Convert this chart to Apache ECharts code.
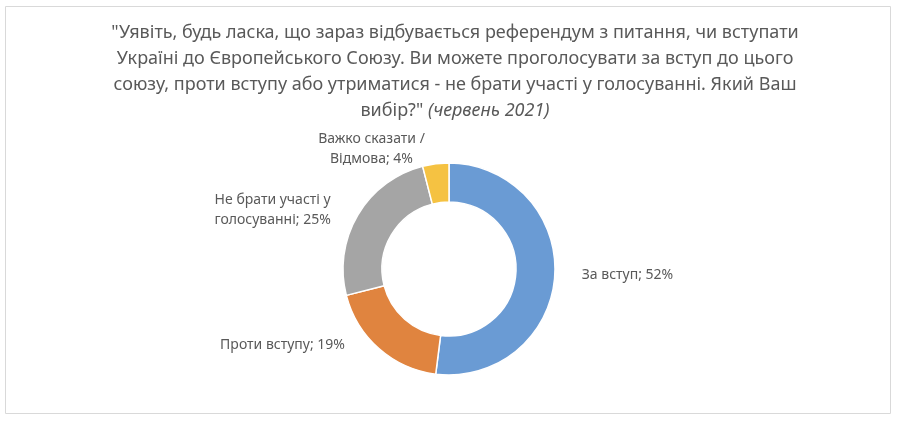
<!DOCTYPE html>
<html>
<head>
<meta charset="utf-8">
<script src="https://cdn.jsdelivr.net/npm/echarts@6/dist/echarts.min.js"></script>
<style>
    html, body { margin: 0; padding: 0; background: #fff; }
    #chart { width: 898px; height: 422px; }
</style>
</head>
<body>
<div id="chart"></div>
<script>
    // дані опитування (червень 2021)
    var categories = ['За вступ', 'Проти вступу', 'Не брати участі у\nголосуванні', 'Важко сказати /\nВідмова'];
    var values = [52, 19, 25, 4];
    var colors = ['#6A9BD4', '#E0843F', '#A5A5A5', '#F5C242'];
    // зсув підписів відносно стандартного місця
    var labelShift = [[-3, -2], [-9, -15], [1, 3], [6, 0]];

    var pieData = categories.map(function (name, i) {
        return { name: name, value: values[i], itemStyle: { color: colors[i] } };
    });

    var chart = echarts.init(document.getElementById('chart'));
    var option = {
        animation: false,
        title: {
            text: '"Уявіть, будь ласка, що зараз відбувається референдум з питання, чи вступати\n' +
                  'Україні до Європейського Союзу. Ви можете проголосувати за вступ до цього\n' +
                  'союзу, проти вступу або утриматися - не брати участі у голосуванні. Який Ваш\n' +
                  'вибір?" {i|(червень 2021)}',
            left: 450,
            top: 15,
            textAlign: 'center',
            textStyle: {
                fontFamily: 'Noto Sans',
                fontSize: 18,
                fontWeight: 'normal',
                color: '#595959',
                lineHeight: 26,
                rich: {
                    i: { fontFamily: 'Noto Sans', fontSize: 18, fontStyle: 'italic', color: '#595959', lineHeight: 26 }
                }
            }
        },
        graphic: [{
            type: 'rect',
            shape: { x: 5.5, y: 6.5, width: 885, height: 407 },
            style: { fill: 'none', stroke: '#D9D9D9', lineWidth: 1 }
        }],
        series: [{
            type: 'pie',
            center: [449, 269],
            radius: [67, 106],
            startAngle: 90,
            clockwise: true,
            itemStyle: { borderColor: '#fff', borderWidth: 1.5 },
            label: {
                show: true,
                position: 'outside',
                formatter: '{b}; {c}%',
                fontFamily: 'Noto Sans',
                fontSize: 14,
                color: '#595959',
                lineHeight: 20
            },
            labelLine: { show: false, length: 15, length2: 10 },
            labelLayout: function (params) {
                var s = labelShift[params.dataIndex];
                // дворядкові підписи центровані, як в Excel
                if (params.text.indexOf('\n') >= 0) {
                    return { align: 'center', dx: -params.labelRect.width / 2 + s[0], dy: s[1] };
                }
                return { dx: s[0], dy: s[1] };
            },
            data: pieData
        }]
    };
    chart.setOption(option);
</script>
</body>
</html>
